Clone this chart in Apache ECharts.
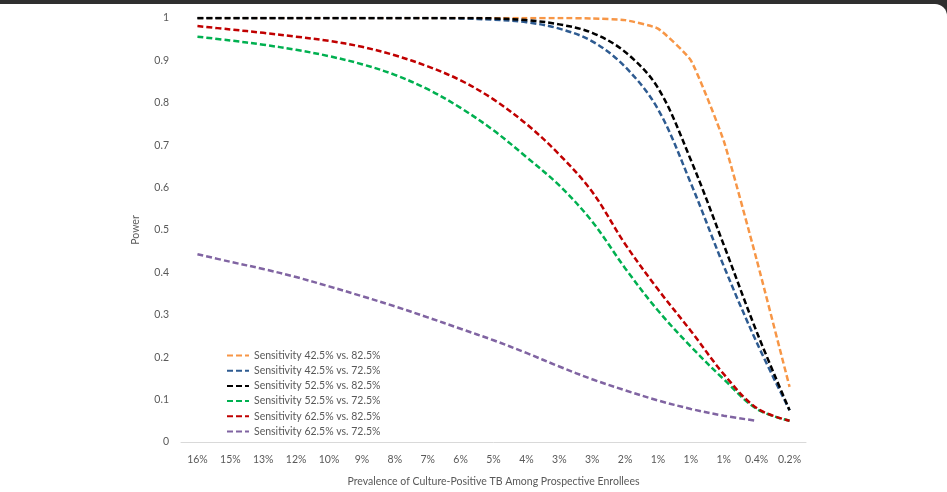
<!DOCTYPE html>
<html>
<head>
<meta charset="utf-8">
<script src="https://cdn.jsdelivr.net/npm/echarts@6/dist/echarts.min.js"></script>
<style>
  html, body { margin: 0; padding: 0; background: #2f2f2f; }
  #chart { position: absolute; top: 4px; left: 0; width: 947px; height: 488px; background: #fff; border-top-right-radius: 12px; }
</style>
</head>
<body>
<div id="chart"></div>
<script>
// x axis: prevalence labels as printed in the figure
const categories = ['16%', '15%', '13%', '12%', '10%', '9%', '8%', '7%', '6%', '5%',
  '4%', '3%', '3%', '2%', '1%', '1%', '1%', '0.4%', '0.2%'];

// power values
const sens425v825 = [1, 1, 1, 1, 1, 1, 1, 1, 1, 1, 1, 1, 0.999, 0.995, 0.975, 0.90, 0.71, 0.43, 0.13];
const sens425v725 = [1, 1, 1, 1, 1, 1, 1, 1, 0.999, 0.996, 0.99, 0.975, 0.945, 0.885, 0.785, 0.61, 0.415, 0.235, 0.075];
const sens525v825 = [1, 1, 1, 1, 1, 1, 1, 1, 1, 0.999, 0.995, 0.985, 0.965, 0.92, 0.835, 0.665, 0.465, 0.26, 0.075];
const sens525v725 = [0.956, 0.947, 0.937, 0.925, 0.91, 0.891, 0.866, 0.832, 0.788, 0.735, 0.672, 0.605, 0.52, 0.41, 0.31, 0.225, 0.148, 0.078, 0.05];
const sens625v825 = [0.981, 0.973, 0.965, 0.956, 0.946, 0.932, 0.912, 0.886, 0.853, 0.808, 0.75, 0.678, 0.59, 0.467, 0.36, 0.262, 0.16, 0.08, 0.05];
const sens625v725 = [0.443, 0.425, 0.408, 0.389, 0.367, 0.344, 0.32, 0.294, 0.267, 0.24, 0.21, 0.178, 0.148, 0.122, 0.098, 0.078, 0.062, 0.05, null];

const seriesDefs = [
  { name: 'Sensitivity 42.5% vs. 82.5%', data: sens425v825, color: '#F79646', smooth: 0.15 },
  { name: 'Sensitivity 42.5% vs. 72.5%', data: sens425v725, color: '#2E5B91', smooth: 0.35 },
  { name: 'Sensitivity 52.5% vs. 82.5%', data: sens525v825, color: '#000000', smooth: 0.35 },
  { name: 'Sensitivity 52.5% vs. 72.5%', data: sens525v725, color: '#00B050', smooth: 0.35 },
  { name: 'Sensitivity 62.5% vs. 82.5%', data: sens625v825, color: '#C00000', smooth: 0.35 },
  { name: 'Sensitivity 62.5% vs. 72.5%', data: sens625v725, color: '#8064A2', smooth: 0.35 }
];

const textGrey = '#595959';
const fontName = 'Lato';

const myChart = echarts.init(document.getElementById('chart'));

const option = {
  animation: false,
  textStyle: { fontFamily: fontName },
  grid: { left: 181, right: 141, top: 14, bottom: 49 },
  legend: {
    orient: 'vertical',
    left: 221,
    top: 341,
    itemWidth: 22,
    itemHeight: 11,
    itemGap: 4.2,
    itemStyle: { opacity: 0 },
    textStyle: { color: textGrey, fontSize: 10.5, lineHeight: 11, fontFamily: fontName },
    data: seriesDefs.map(s => s.name)
  },
  xAxis: {
    type: 'category',
    data: categories,
    boundaryGap: true,
    axisLine: { lineStyle: { color: '#D9D9D9', width: 1 } },
    axisTick: { show: false },
    axisLabel: { color: textGrey, fontSize: 10.5, margin: 12, interval: 0 },
    name: 'Prevalence of Culture-Positive TB Among Prospective Enrollees',
    nameLocation: 'middle',
    nameGap: 34,
    nameTextStyle: { color: textGrey, fontSize: 10.5 }
  },
  yAxis: {
    type: 'value',
    min: 0,
    max: 1,
    interval: 0.1,
    axisLine: { show: false },
    axisTick: { show: false },
    splitLine: { show: false },
    axisLabel: { color: textGrey, fontSize: 10.5, margin: 12 },
    name: 'Power',
    nameLocation: 'middle',
    nameGap: 40,
    nameTextStyle: { color: textGrey, fontSize: 10.5 }
  },
  series: seriesDefs.map(s => ({
    name: s.name,
    type: 'line',
    data: s.data,
    smooth: s.smooth,
    symbol: 'none',
    connectNulls: false,
    color: s.color,
    lineStyle: { color: s.color, width: 2.5, type: [6, 3] }
  }))
};

myChart.setOption(option);
</script>
</body>
</html>
